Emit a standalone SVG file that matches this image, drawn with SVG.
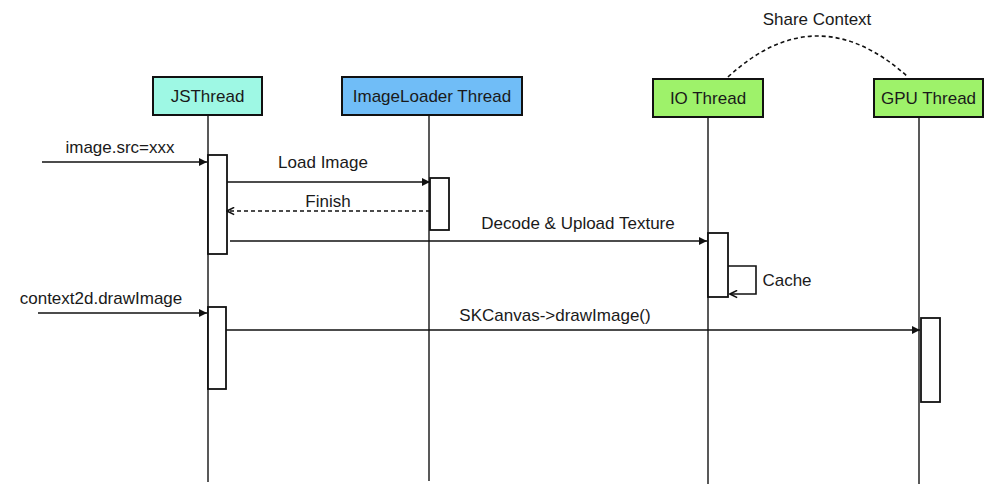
<svg xmlns="http://www.w3.org/2000/svg" width="1000" height="493" viewBox="0 0 1000 493">
<style>
text{font-family:"Liberation Sans",Arial,sans-serif;font-size:17px;fill:#1a1a1a;text-anchor:middle}
.head{stroke:#111;stroke-width:2}
.life{stroke:#222;stroke-width:1.5;fill:none}
.act{fill:#fff;stroke:#111;stroke-width:1.8}
.msg{stroke:#111;stroke-width:1.6;fill:none}
.dash{stroke-dasharray:4 3}
</style>
<defs>
<marker id="fill" viewBox="0 0 10 10" refX="10" refY="5" markerWidth="8" markerHeight="8" markerUnits="userSpaceOnUse" orient="auto"><path d="M0,0 L10,5 L0,10 z" fill="#111"/></marker>
<marker id="open" viewBox="0 0 10 10" refX="9" refY="5" markerWidth="9" markerHeight="9" markerUnits="userSpaceOnUse" orient="auto"><path d="M1,1 L9,5 L1,9" fill="none" stroke="#111" stroke-width="1.8"/></marker>
</defs>
<g id="js">
<line class="life" x1="208" y1="115" x2="208" y2="482"/>
<rect class="head" x="153" y="77" width="109" height="38" fill="#9ef8e4"/>
<text x="207.5" y="102">JSThread</text>
<rect class="act" x="208" y="155" width="19" height="99"/>
<rect class="act" x="208" y="307" width="18" height="82"/>
</g>
<g id="loader">
<line class="life" x1="429" y1="115" x2="429" y2="481"/>
<rect class="head" x="342" y="77" width="180" height="38" fill="#70bdf7"/>
<text x="432" y="102">ImageLoader Thread</text>
<rect class="act" x="430" y="178" width="19" height="52"/>
</g>
<g id="io">
<line class="life" x1="708" y1="117" x2="708" y2="484"/>
<rect class="head" x="653" y="79" width="110" height="38" fill="#9ef26a"/>
<text x="708" y="104">IO Thread</text>
<rect class="act" x="708" y="233" width="20" height="64"/>
</g>
<g id="gpu">
<line class="life" x1="919" y1="117" x2="919" y2="484"/>
<rect class="head" x="874" y="79" width="109" height="38" fill="#9ef26a"/>
<text x="928.5" y="104">GPU Thread</text>
<rect class="act" x="921" y="318" width="19" height="84"/>
</g>
<g id="connectors">
<path class="msg dash" d="M728,77 Q817,-5 908,77"/>
<text x="817" y="25">Share Context</text>
<line class="msg" x1="42" y1="162" x2="207" y2="162" marker-end="url(#fill)"/>
<text x="120" y="153">image.src=xxx</text>
<line class="msg" x1="227" y1="182" x2="430" y2="182" marker-end="url(#fill)"/>
<text x="323" y="168">Load Image</text>
<line class="msg dash" x1="430" y1="211" x2="227" y2="211" marker-end="url(#open)"/>
<text x="328" y="207">Finish</text>
<line class="msg" x1="230" y1="241" x2="707" y2="241" marker-end="url(#fill)"/>
<text x="578" y="229">Decode &amp; Upload Texture</text>
<path class="msg" d="M728,266 H756 V294 H730" marker-end="url(#open)"/>
<text x="787" y="286">Cache</text>
<line class="msg" x1="38" y1="313" x2="207" y2="313" marker-end="url(#fill)"/>
<text x="101" y="304">context2d.drawImage</text>
<line class="msg" x1="226" y1="330" x2="920" y2="330" marker-end="url(#fill)"/>
<text x="555" y="321">SKCanvas-&gt;drawImage()</text>
</g>
</svg>
